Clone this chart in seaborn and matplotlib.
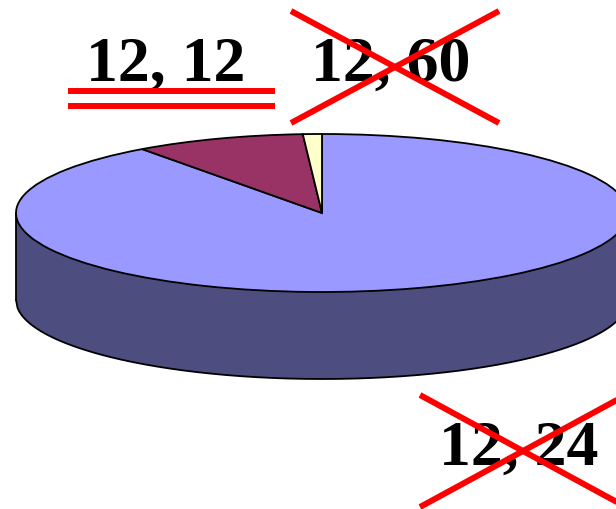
import numpy as np
import matplotlib
matplotlib.use("Agg")
import matplotlib.pyplot as plt
import seaborn as sns

slice_names = ["a", "b", "c"]
slice_values = [90, 9, 1]
slice_colors = ["#9999FF", "#993366", "#FFFFCC"]
side_color = "#4D4D80"
answer_labels = ["12, 12", "12, 60", "12, 24"]

sns.set_theme(style="white")
plt.rcParams["font.family"] = ["Liberation Serif", "DejaVu Serif"]

W, H = 616, 509
CX, CY, RX, RY, DEPTH = 322, 213, 306, 79, 87

fig = plt.figure(figsize=(W / 100, H / 100), dpi=100, facecolor="white")

# Pie axes: one data unit is RX pixels across and RY pixels down
ax = fig.add_axes([0, 0, 1, 1], facecolor="none")
d = DEPTH / RY
xs = np.linspace(-1, 1, 400)
front = -np.sqrt(1 - xs ** 2)
ax.fill_between(xs, front, front - d, color=side_color, ec="none", zorder=1)
ax.plot(xs, front - d, color="black", lw=1.3, zorder=2)
ax.plot([-1, -1], [0, -d], color="black", lw=1.3, zorder=2)
ax.plot([1, 1], [0, -d], color="black", lw=1.3, zorder=2)
wedges, _ = ax.pie(
    slice_values,
    colors=sns.color_palette(slice_colors),
    startangle=90,
    counterclock=False,
    radius=1,
    wedgeprops={"edgecolor": "black", "linewidth": 1.3, "zorder": 3},
)
ax.set_aspect("auto")
ax.set_xlim((0 - CX) / RX, (W - CX) / RX)
ax.set_ylim((CY - H) / RY, CY / RY)
ax.axis("off")

# Overlay in pixel coordinates for the handwritten-style marks
ov = fig.add_axes([0, 0, 1, 1], facecolor="none")
ov.set_xlim(0, W)
ov.set_ylim(H, 0)
ov.axis("off")

text_style = dict(fontsize=46, fontweight="bold", color="black",
                  ha="center", va="baseline", zorder=5)
ov.text(166, 81, answer_labels[0], **text_style)
ov.text(391, 81, answer_labels[1], **text_style)
ov.text(519, 465, answer_labels[2], **text_style)

red = dict(color="#FF0000", lw=4.3, solid_capstyle="butt", zorder=6)
ov.plot([68, 275], [91, 91], **red)
ov.plot([68, 275], [106, 106], **red)
ov.plot([291, 499], [11, 123], **red)
ov.plot([291, 499], [123, 11], **red)
ov.plot([420, 626], [395, 507], **red)
ov.plot([420, 626], [507, 395], **red)

fig.savefig("out.png", dpi=100, facecolor="white")
